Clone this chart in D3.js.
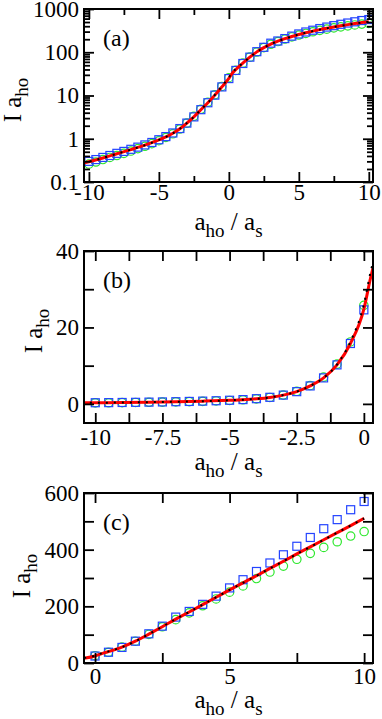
<!DOCTYPE html>
<html>
<head>
<meta charset="utf-8">
<script src="https://cdn.jsdelivr.net/npm/d3@7"></script>
<style>
  body { margin: 0; background: #fff; }
  svg text { font-family: "Liberation Serif", "Times New Roman", Times, serif !important; fill: #000; }
</style>
</head>
<body>
<svg id="chart" width="382" height="719"></svg>
<script>
// markers, one every 0.5 in a_ho / a_s
const markerX = [-10, -9.5, -9, -8.5, -8, -7.5, -7, -6.5, -6, -5.5, -5, -4.5, -4, -3.5, -3, -2.5, -2, -1.5, -1, -0.5,
  0, 0.5, 1, 1.5, 2, 2.5, 3, 3.5, 4, 4.5, 5, 5.5, 6, 6.5, 7, 7.5, 8, 8.5, 9, 9.5, 10];
const squaresI = [0.30, 0.33, 0.37, 0.41, 0.46, 0.51, 0.57, 0.64, 0.72, 0.82, 0.95, 1.12, 1.36, 1.72, 2.3, 3.2, 4.7, 6.8, 10.2, 15.8,
  24.6, 38, 55, 77, 103, 130, 162, 182, 207, 236, 265, 294, 323, 353, 382, 412, 443, 474, 506, 541, 570];
const circlesI = [0.26, 0.29, 0.33, 0.37, 0.41, 0.46, 0.52, 0.59, 0.67, 0.77, 0.90, 1.07, 1.30, 1.68, 2.3, 3.3, 4.8, 7.0, 10.4, 16.2,
  25.8, 38, 56, 77, 101, 128, 153, 177, 202, 226, 250, 272, 298, 321, 342, 366, 387, 408, 428, 448, 464];

// solid red and dotted black curves
const curveX = [-10.5, -10, -9, -8, -7, -6, -5, -4.5, -4, -3.5, -3, -2.5, -2, -1.5, -1, -0.5, 0, 0.25, 0.5,
  1, 1.5, 2, 2.5, 3, 3.5, 4, 4.5, 5, 5.5, 6, 6.5, 7, 7.5, 8, 8.5, 9, 9.5, 10];
const redI = [0.27, 0.295, 0.36, 0.45, 0.56, 0.71, 0.94, 1.10, 1.34, 1.70, 2.3, 3.2, 4.7, 6.8, 10.2, 15.8, 24.8, 33, 40,
  56, 77, 102, 128, 155, 180, 206, 232, 258, 283, 308, 334, 359, 385, 410, 435, 460, 485, 511];
const blackI = [0.27, 0.295, 0.36, 0.45, 0.56, 0.71, 0.94, 1.10, 1.34, 1.70, 2.3, 3.2, 4.7, 6.8, 10.3, 16.3, 26, 34.5, 41,
  56, 77, 102, 128, 155, 180, 206, 232, 258, 283, 308, 334, 359, 385, 410, 435, 460, 485, 510];

// tick labels
const panelLabels = ['(a)', '(b)', '(c)'];
const ticksAx = [-10, -5, 0, 5, 10];
const ticksAy = [0.1, 1, 10, 100, 1000];
const ticksBx = [-10, -7.5, -5, -2.5, 0];
const ticksBy = [0, 20, 40];
const ticksCx = [0, 5, 10];
const ticksCy = [0, 200, 400, 600];

const svg = d3.select('#chart');
const left = 84, right = 373;

function subTitle(sel, parts){
	//parts: [text, isSub]
	let shift = 0;
	parts.forEach(function(p){
		const t = sel.append('tspan').text(p[0]);
		if(p[1]){
			t.style('font-size', '19px').attr('dy', 7 - shift);
			shift = 7;
		}else{
			t.attr('dy', -shift);
			shift = 0;
		}
	});
}

function drawPanel(cfg, k){
	const g = svg.append('g');
	const x = d3.scaleLinear().domain(cfg.xDomain).range([left, right]);
	const y = (cfg.log ? d3.scaleLog() : d3.scaleLinear()).domain(cfg.yDomain).range([cfg.bottom, cfg.top]);

	const clipId = 'clip-panel-' + k;
	svg.append('clipPath').attr('id', clipId)
		.append('rect')
		.attr('x', left).attr('y', cfg.top)
		.attr('width', right - left).attr('height', cfg.bottom - cfg.top);

	const data = g.append('g').attr('clip-path', `url(#${clipId})`);

	const pts = markerX.map(function(d, i){ return {x: d, sq: squaresI[i], ci: circlesI[i]}; })
		.filter(function(d){ return d.x >= cfg.xDomain[0] && d.x <= cfg.xDomain[1]; });

	data.selectAll('circle.ci')
		.data(pts)
		.enter()
		.append('circle')
		.attr('cx', function(d){ return x(d.x); })
		.attr('cy', function(d){ return y(d.ci); })
		.attr('r', 4.2)
		.style('fill', 'none')
		.style('stroke', '#2ee82e')
		.style('stroke-width', 1.2);

	data.selectAll('rect.sq')
		.data(pts)
		.enter()
		.append('rect')
		.attr('x', function(d){ return x(d.x) - 4; })
		.attr('y', function(d){ return y(d.sq) - 4; })
		.attr('width', 8)
		.attr('height', 8)
		.style('fill', 'none')
		.style('stroke', '#2444ff')
		.style('stroke-width', 1.2);

	const curve = curveX.map(function(d, i){ return {x: d, r: redI[i], b: blackI[i]}; });

	const redLine = d3.line()
		.x(function(d){ return x(d.x); })
		.y(function(d){ return y(d.r); })
		.curve(d3.curveMonotoneX);
	const blackLine = d3.line()
		.x(function(d){ return x(d.x); })
		.y(function(d){ return y(d.b); })
		.curve(d3.curveMonotoneX);

	data.append('path')
		.datum(curve)
		.attr('d', redLine)
		.style('fill', 'none')
		.style('stroke', '#ff0000')
		.style('stroke-width', 3);

	data.append('path')
		.datum(curve)
		.attr('d', blackLine)
		.style('fill', 'none')
		.style('stroke', '#000')
		.style('stroke-width', 2)
		.style('stroke-dasharray', '2,6');

	//axes: ticks pointing inwards on all four sides
	const axes = [
		{gen: d3.axisBottom, s: x, tr: `translate(0,${cfg.bottom})`, ticks: cfg.xTicks, minor: cfg.xMinor, lab: true},
		{gen: d3.axisTop, s: x, tr: `translate(0,${cfg.top})`, ticks: cfg.xTicks, minor: cfg.xMinor, lab: false},
		{gen: d3.axisLeft, s: y, tr: `translate(${left},0)`, ticks: cfg.yTicks, minor: cfg.yMinor, lab: true},
		{gen: d3.axisRight, s: y, tr: `translate(${right},0)`, ticks: cfg.yTicks, minor: cfg.yMinor, lab: false}
	];
	axes.forEach(function(a){
		const minorAxis = a.gen(a.s).tickValues(a.minor).tickFormat('').tickSize(-cfg.minorLen);
		g.append('g').attr('transform', a.tr).call(minorAxis).call(function(s){ s.select('.domain').remove(); });

		const isX = a.s === x;
		const majorAxis = a.gen(a.s).tickValues(a.ticks).tickSize(-cfg.majorLen)
			.tickPadding(isX ? cfg.xPad : 5)
			.tickFormat(a.lab ? function(d){ return String(d); } : '');
		const ag = g.append('g').attr('transform', a.tr).call(majorAxis);
		ag.select('.domain').remove();
		ag.attr('font-size', null).attr('font-family', null);
		ag.selectAll('text').style('font-size', '23px');
	});
	g.selectAll('.tick line').style('stroke', '#000').style('stroke-width', 1.8);

	g.append('rect')
		.attr('x', left).attr('y', cfg.top)
		.attr('width', right - left).attr('height', cfg.bottom - cfg.top)
		.style('fill', 'none')
		.style('stroke', '#000')
		.style('stroke-width', 2);

	g.append('text')
		.attr('x', 103)
		.attr('y', cfg.top + 37)
		.style('font-size', '24px')
		.text(cfg.name);

	const xt = g.append('text')
		.attr('x', (left + right) / 2)
		.attr('y', cfg.bottom + cfg.xTitleOff)
		.attr('text-anchor', 'middle')
		.style('font-size', '25px');
	subTitle(xt, [['a', false], ['ho', true], [' / a', false], ['s', true]]);

	const yt = g.append('text')
		.attr('transform', `translate(${cfg.yTitleX},${cfg.yTitleY}) rotate(-90)`)
		.attr('text-anchor', 'middle')
		.style('font-size', '25px');
	subTitle(yt, [['I a', false], ['ho', true]]);
}

const yA = d3.scaleLog().domain([0.1, 1000]);
const minorA = yA.ticks().filter(function(d){ return ticksAy.indexOf(d) < 0; });

drawPanel({name: panelLabels[0], top: 9, bottom: 182, xDomain: [-10.35, 10.3], yDomain: [0.1, 1000], log: true,
	xTicks: ticksAx, xMinor: [-7.5, -2.5, 2.5, 7.5], yTicks: ticksAy, yMinor: minorA,
	majorLen: 10, minorLen: 6, xPad: 2, xTitleOff: 48, yTitleX: 21, yTitleY: 100}, 0);

drawPanel({name: panelLabels[1], top: 251, bottom: 423, xDomain: [-10.42, 0.34], yDomain: [-5, 40], log: false,
	xTicks: ticksBx, xMinor: [-8.75, -6.25, -3.75, -1.25], yTicks: ticksBy, yMinor: [10, 30],
	majorLen: 10, minorLen: 10, xPad: 6, xTitleOff: 47, yTitleX: 42, yTitleY: 331}, 1);

drawPanel({name: panelLabels[2], top: 493, bottom: 663, xDomain: [-0.41, 10.33], yDomain: [0, 600], log: false,
	xTicks: ticksCx, xMinor: [2.5, 7.5], yTicks: ticksCy, yMinor: [100, 300, 500],
	majorLen: 10, minorLen: 10, xPad: 5, xTitleOff: 45, yTitleX: 30, yTitleY: 576}, 2);
</script>
</body>
</html>
